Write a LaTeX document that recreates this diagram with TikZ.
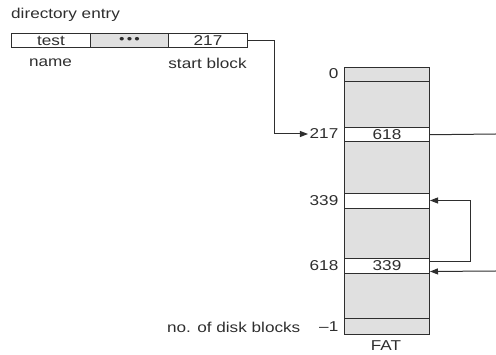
\documentclass[tikz,border=0pt]{standalone}
\usepackage{fontspec}
\setmainfont{Liberation Sans}[FakeStretch=1.2]
\usetikzlibrary{calc,arrows.meta}
\definecolor{cellgray}{HTML}{E0E0E0}
\definecolor{linec}{HTML}{2E2E2E}
\tikzset{
  txt/.style={font=\fontsize{14.3}{16}\selectfont, text=linec, inner sep=1.5pt},
  cellbox/.style={draw=linec, line width=1pt, anchor=north west, inner sep=0pt,
    font=\fontsize{14.3}{16}\selectfont, text=linec},
  arr/.style={draw=linec, line width=1pt, -{Triangle[length=8pt,width=6pt]}},
  conn/.style={draw=linec, line width=1pt}
}
\begin{document}
\begin{tikzpicture}[x=1pt,y=-1pt]
\useasboundingbox (0,0) rectangle (496,355);
% directory entry
\node[txt, anchor=west] (title) at (9.5,15) {directory entry};
\node[cellbox, fill=white, minimum width=79pt, minimum height=14pt] (dtest) at (11,33) {test};
\node[cellbox, fill=cellgray, minimum width=78pt, minimum height=14pt] (ddots) at (90,33) {\fontsize{13}{13}\selectfont •\,•\,•};
\node[cellbox, fill=white, minimum width=79pt, minimum height=14pt] (d217) at (168,33) {217};
\node[txt] (name) at (50.5,63) {name};
\node[txt] (sblock) at (207.5,63) {start block};
% FAT
\node[cellbox, fill=cellgray, minimum width=85pt, minimum height=267pt] (fat) at (344,67) {};
\draw[conn] (344,82) -- (429,82);
\draw[conn] (344,319) -- (429,319);
\node[cellbox, fill=white, minimum width=85pt, minimum height=14.5pt] (r217) at (344,127) {618};
\node[cellbox, fill=white, minimum width=85pt, minimum height=15pt] (r339) at (344,193) {};
\node[cellbox, fill=white, minimum width=85pt, minimum height=15pt] (r618) at (344,258) {339};
\node[txt, anchor=north] (fatlab) at (386,339) {FAT};
% labels
\node[txt, anchor=east] (l0) at (340,74) {0};
\node[txt, anchor=east] (l217) at (340,134) {217};
\node[txt, anchor=east] (l339) at (340,201) {339};
\node[txt, anchor=east] (l618) at (340,266) {618};
\node[txt, anchor=east] (lm1) at (340,327) {–1};
\node[txt, anchor=east] (nblocks) at (302,327) {no. of disk blocks};
% connectors
\draw[arr] (d217.east) -- ++(26,0) |- (l217.west);
\coordinate (out1) at (496,134);
\draw[conn] (r217.east) -- (out1);
\draw[arr] ($(r618.north east)+(0,4)$) -- ++(40,0) |- ($(r339.east)+(0,-0.5)$);
\coordinate (in2) at (496,271);
\draw[arr] (in2) -- ($(r618.east)+(0,5.5)$);
\end{tikzpicture}
\end{document}
